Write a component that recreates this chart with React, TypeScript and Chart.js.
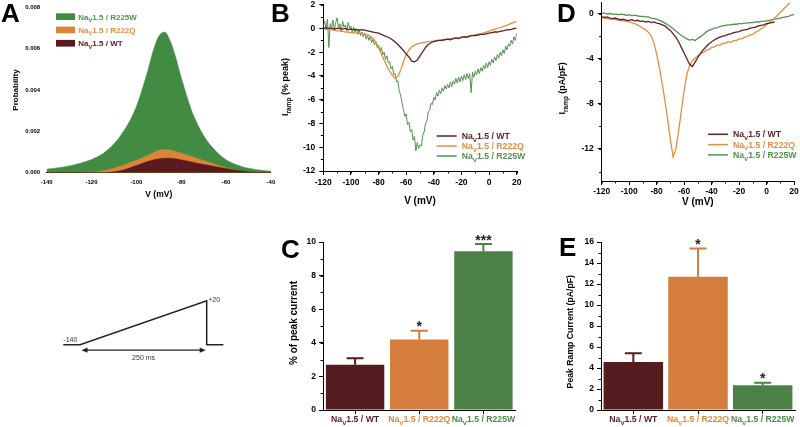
import React, { useEffect, useRef } from 'react';
import { Chart, registerables } from 'chart.js';

Chart.register(...registerables);

const FONT = '"Liberation Sans", Arial, Helvetica, sans-serif';

// ---------- colours ----------
const FILL_WT = '#5b1b1e';
const FILL_Q = '#dc8538';
const FILL_W = '#428b42';
const LINE_WT = '#5e2228';
const LINE_Q = '#e58d42';
const LINE_W = '#559150';
const BAR_COLORS = ['#561d21', '#d47d3c', '#4b8047'];
const TEXT_COLORS = ['#5a1e22', '#e0893e', '#4b8a47'];

// ---------- data ----------
const groups = ['WT', 'R222Q', 'R225W'];

// Panel A: window probability
const vA = [-140, -137.5, -135, -132.5, -130, -127.5, -125, -122.5, -120, -117.5, -115, -112.5, -110, -107.5, -105, -102.5, -100, -97.5, -95, -92.5, -90, -87.5, -85, -82.5, -80, -77.5, -75, -72.5, -70, -67.5, -65, -62.5, -60, -57.5, -55, -52.5, -50, -47.5, -45, -42.5, -40];
const probR225W = [0.00017, 0.0002, 0.00024, 0.00028, 0.00033, 0.00039, 0.00046, 0.00054, 0.00064, 0.00076, 0.00092, 0.00113, 0.0014, 0.00172, 0.00212, 0.0026, 0.0032, 0.004, 0.0049, 0.0059, 0.0066, 0.0068, 0.0064, 0.0056, 0.0046, 0.0037, 0.0029, 0.0023, 0.0018, 0.0014, 0.0011, 0.00083, 0.00063, 0.00048, 0.00037, 0.00028, 0.00022, 0.00017, 0.00013, 0.0001, 0.00008];
const probR222Q = [0, 0, 0, 0, 0, 0, 0, 0.00001, 0.00002, 0.00005, 0.00009, 0.00015, 0.00022, 0.0003, 0.0004, 0.0005, 0.0006, 0.00071, 0.00083, 0.00097, 0.00108, 0.00112, 0.0011, 0.00103, 0.00095, 0.00086, 0.00077, 0.00068, 0.00059, 0.0005, 0.00041, 0.00032, 0.00024, 0.00017, 0.00011, 0.00007, 0.00004, 0.00002, 0.00001, 0, 0];
const probWT = [0, 0, 0, 0, 0, 0, 0, 0, 0, 0, 0, 0.00001, 0.00004, 0.00009, 0.00016, 0.00025, 0.00035, 0.00045, 0.00054, 0.00062, 0.00067, 0.0007, 0.0007, 0.00067, 0.00062, 0.00057, 0.00051, 0.00045, 0.0004, 0.00035, 0.0003, 0.00025, 0.0002, 0.00015, 0.00011, 0.00008, 0.00005, 0.00003, 0.00001, 0, 0];

// Panel B / D voltage grids
const vFine = [-120, -119, -118, -117, -116, -115, -114, -113, -112, -111, -110, -109, -108, -107, -106, -105, -104, -103, -102, -101, -100, -99, -98, -97, -96, -95, -94, -93, -92, -91, -90, -89, -88, -87, -86, -85, -84, -83, -82, -81, -80, -79, -78, -77, -76, -75, -74, -73, -72, -71, -70, -69, -68, -67, -66, -65, -64, -63, -62, -61, -60, -59, -58, -57, -56, -55, -54, -53, -52, -51, -50, -49, -48, -47, -46, -45, -44, -43, -42, -41, -40, -39, -38, -37, -36, -35, -34, -33, -32, -31, -30, -29, -28, -27, -26, -25, -24, -23, -22, -21, -20, -19, -18, -17, -16, -15, -14, -13, -12, -11, -10, -9, -8, -7, -6, -5, -4, -3, -2, -1, 0, 1, 2, 3, 4, 5, 6, 7, 8, 9, 10, 11, 12, 13, 14, 15, 16, 17, 18, 19, 20];
const vCoarse = [-120, -118, -116, -114, -112, -110, -108, -106, -104, -102, -100, -98, -96, -94, -92, -90, -88, -86, -84, -82, -80, -78, -76, -74, -72, -70, -68, -66, -64, -62, -60, -58, -56, -54, -52, -50, -48, -46, -44, -42, -40, -38, -36, -34, -32, -30, -28, -26, -24, -22, -20, -18, -16, -14, -12, -10, -8, -6, -4, -2, 0, 2, 4, 6, 8, 10, 12, 14, 16, 18, 20];

// Panel B: I_ramp (% peak)
const pctR225W = [0.2, 0.6, -0.1, 0.8, -1.6, 0.4, 0.1, 0.7, -0.2, 0.5,
  0.9, 0.0, 0.4, -0.3, 0.6, 0.1, 0.3, -0.2, 0.5, 0.0,
  0.2, -0.4, 0.1, -0.3, 0.0, -0.5, -0.1, -0.6, -0.3, -0.7,
  -0.4, -0.9, -0.6, -1.0, -0.7, -1.2, -0.9, -1.4, -1.1, -1.6,
  -1.4, -1.9, -1.6, -2.2, -2.0, -2.6, -2.3, -2.9, -2.8, -3.4,
  -3.2, -3.9, -3.8, -4.5, -4.4, -5.3, -5.6, -6.3, -6.8, -7.4,
  -7.2, -8.1, -7.9, -8.7, -8.5, -9.4, -9.1, -10.3, -9.6, -10.1,
  -9.8, -9.9, -9.0, -8.7, -8.0, -7.8, -7.0, -6.9, -6.3, -6.4,
  -5.8, -6.0, -5.4, -5.7, -5.2, -5.5, -5.0, -5.3, -4.8, -5.1,
  -4.7, -5.0, -4.5, -4.9, -4.4, -4.7, -4.2, -4.6, -4.1, -4.5,
  -4.0, -4.4, -3.9, -4.3, -3.8, -4.2, -3.8, -5.4, -3.7, -4.1,
  -3.6, -3.9, -3.4, -3.8, -3.3, -3.6, -3.1, -3.4, -2.9, -3.3,
  -2.8, -3.1, -2.6, -2.9, -2.4, -2.7, -2.2, -2.5, -2.0, -2.3,
  -1.8, -2.1, -1.5, -1.8, -1.3, -1.5, -1.0, -1.3, -0.7, -1.0,
  -0.4];
const pctWT = [0.0, 0.05, 0.0, 0.05, -0.05, 0.0, 0.0, -0.05, 0.0, -0.1,
  -0.05, -0.1, -0.1, -0.15, -0.1, -0.15, -0.2, -0.25, -0.3, -0.35,
  -0.4, -0.5, -0.6, -0.7, -0.8, -0.95, -1.15, -1.35, -1.6, -1.85,
  -2.15, -2.4, -2.75, -2.8, -2.65, -2.3, -1.95, -1.6, -1.35, -1.2,
  -1.1, -1.05, -1.0, -1.0, -0.95, -0.9, -0.95, -0.85, -0.8, -0.85,
  -0.75, -0.7, -0.75, -0.65, -0.6, -0.6, -0.55, -0.5, -0.5, -0.45,
  -0.4, -0.35, -0.3, -0.3, -0.25, -0.2, -0.15, -0.1, -0.1, 0.0,
  0.0];
const pctR222Q = [0.0, -0.05, -0.1, -0.1, -0.15, -0.2, -0.2, -0.25, -0.3, -0.3,
  -0.35, -0.35, -0.4, -0.4, -0.45, -0.5, -0.55, -0.65, -0.85, -1.15,
  -1.6, -2.1, -2.65, -3.15, -3.6, -3.95, -4.2, -4.05, -3.5, -2.8,
  -2.2, -1.8, -1.55, -1.4, -1.3, -1.25, -1.2, -1.15, -1.1, -1.08,
  -1.05, -1.0, -0.98, -0.95, -0.92, -0.9, -0.87, -0.84, -0.8, -0.77,
  -0.73, -0.7, -0.66, -0.62, -0.58, -0.53, -0.48, -0.43, -0.37, -0.3,
  -0.23, -0.15, -0.07, 0.0, 0.08, 0.15, 0.23, 0.32, 0.42, 0.52,
  0.6];

// Panel D: I_ramp (pA/pF)
const densWT = [-0.3, -0.35, -0.3, -0.4, -0.45, -0.4, -0.5, -0.55, -0.5, -0.6,
  -0.6, -0.55, -0.65, -0.6, -0.7, -0.65, -0.75, -0.7, -0.8, -0.75,
  -0.85, -0.9, -1.0, -1.1, -1.3, -1.5, -1.8, -2.1, -2.5, -3.0,
  -3.5, -4.0, -4.5, -4.7, -4.3, -3.9, -3.5, -3.2, -2.95, -2.7,
  -2.5, -2.35, -2.2, -2.1, -2.0, -1.95, -1.85, -1.8, -1.7, -1.65,
  -1.6, -1.5, -1.45, -1.4, -1.3, -1.25, -1.2, -1.1, -1.05, -1.0,
  -0.9, -0.85, -0.8, -0.75, null, null, null, null, null, null,
  null];
const densR222Q = [-0.3, -0.4, -0.45, -0.5, -0.5, -0.55, -0.6, -0.6, -0.65, -0.7,
  -0.75, -0.8, -0.9, -1.0, -1.15, -1.3, -1.45, -1.65, -2.0, -2.6,
  -3.6, -4.8, -6.2, -7.7, -9.4, -11.2, -12.7, -12.0, -10.4, -8.6,
  -6.8, -5.4, -4.6, -4.2, -3.95, -3.75, -3.55, -3.45, -3.25, -3.2,
  -3.0, -2.95, -2.8, -2.8, -2.65, -2.65, -2.5, -2.55, -2.4, -2.4,
  -2.25, -2.25, -2.1, -2.05, -1.9, -1.85, -1.65, -1.55, -1.35, -1.2,
  -1.0, -0.8, -0.6, -0.4, -0.15, 0.1, 0.35, 0.6, 0.85, 1.1,
  1.3];
const densR225W = [0.0, 0.05, -0.05, 0.0, -0.05, -0.05, -0.1, -0.05, -0.1, -0.15,
  -0.1, -0.2, -0.15, -0.2, -0.25, -0.25, -0.3, -0.3, -0.4, -0.45,
  -0.5, -0.6, -0.7, -0.85, -1.0, -1.15, -1.35, -1.55, -1.75, -1.95,
  -2.1, -2.25, -2.35, -2.3, -2.4, -2.2, -2.05, -1.85, -1.65, -1.5,
  -1.4, -1.3, -1.25, -1.15, -1.1, -1.05, -1.0, -1.0, -0.95, -0.95,
  -0.9, -0.9, -0.85, -0.85, -0.8, -0.8, -0.75, -0.75, -0.7, -0.7,
  -0.65, -0.6, -0.55, -0.5, -0.45, -0.4, -0.35, -0.3, -0.25, -0.15,
  -0.1];

// Panel C: % of peak current
const rampPct = [2.7, 4.2, 9.45];
const rampPctSem = [0.38, 0.52, 0.43];
const rampPctSig = ['', '*', '***'];

// Panel E: peak ramp current
const peakRamp = [4.58, 12.7, 2.35];
const peakRampSem = [0.82, 2.68, 0.25];
const peakRampSig = ['', '*', '*'];

// Ramp protocol
const protoTime = [-33, 0, 250, 250, 283];
const protoVolt = [-140, -140, 20, -140, -140];

// ---------- helpers ----------
type Seg = { t: string; sub?: boolean };

function drawRich(ctx: any, segs: Seg[], x: number, yc: number, size: number, color: string, align = 'left', weight = 'bold') {
  let w = 0;
  for (const s of segs) {
    ctx.font = `${weight} ${s.sub ? size * 0.72 : size}px ${FONT}`;
    w += ctx.measureText(s.t).width;
  }
  let cx = align === 'left' ? x : align === 'center' ? x - w / 2 : x - w;
  const base = yc + size * 0.36;
  ctx.fillStyle = color;
  ctx.textAlign = 'left';
  ctx.textBaseline = 'alphabetic';
  for (const s of segs) {
    const sz = s.sub ? size * 0.72 : size;
    ctx.font = `${weight} ${sz}px ${FONT}`;
    ctx.fillText(s.t, cx, base + (s.sub ? size * 0.3 : 0));
    cx += ctx.measureText(s.t).width;
  }
}

function drawRotated(ctx: any, segs: Seg[], x: number, y: number, size: number, color: string, weight = 'bold') {
  ctx.save();
  ctx.translate(x, y);
  ctx.rotate(-Math.PI / 2);
  drawRich(ctx, segs, 0, 0, size, color, 'center', weight);
  ctx.restore();
}

function drawLetter(ctx: any, letter: string, x: number, baseline: number) {
  ctx.save();
  ctx.font = `bold 26px ${FONT}`;
  ctx.fillStyle = '#000';
  ctx.textAlign = 'left';
  ctx.textBaseline = 'alphabetic';
  ctx.fillText(letter, x, baseline);
  ctx.restore();
}

const naSegs = (g: string): Seg[] => [{ t: 'Na' }, { t: 'V', sub: true }, { t: '1.5 / ' + g }];

function drawMinor(chart: any, xStep: number, yStep: number, len = 2.5) {
  const { ctx, chartArea: ca, scales } = chart;
  ctx.save();
  ctx.strokeStyle = '#000';
  ctx.lineWidth = 1;
  ctx.beginPath();
  if (xStep) {
    const s = scales.x;
    for (let v = Math.ceil(s.min / xStep) * xStep; v <= s.max + 1e-9; v += xStep) {
      const p = Math.round(s.getPixelForValue(v)) + 0.5;
      ctx.moveTo(p, ca.bottom);
      ctx.lineTo(p, ca.bottom + len);
    }
  }
  if (yStep) {
    const s = scales.y;
    for (let v = Math.ceil(s.min / yStep) * yStep; v <= s.max + 1e-9; v += yStep) {
      const p = Math.round(s.getPixelForValue(v)) + 0.5;
      ctx.moveTo(ca.left, p);
      ctx.lineTo(ca.left - len, p);
    }
  }
  ctx.stroke();
  ctx.restore();
}

function linScale(axis: 'x' | 'y', min: number, max: number, step: number, fit: number, fontSize: number, opts: any = {}) {
  const fmt = opts.fmt;
  return {
    type: 'linear',
    position: axis === 'x' ? 'bottom' : 'left',
    min,
    max,
    border: { display: opts.border !== false, color: '#000', width: 1 },
    grid: { display: true, drawOnChartArea: false, drawTicks: opts.ticks !== false, tickLength: opts.tickLen ?? 4, tickColor: '#000', tickWidth: 1, color: '#000' },
    ticks: {
      stepSize: step,
      includeBounds: false,
      autoSkip: false,
      maxRotation: 0,
      minRotation: 0,
      padding: opts.pad ?? 3,
      color: '#000',
      font: { family: FONT, size: fontSize, weight: 'bold' },
      callback: (v: any) => (fmt ? fmt(Number(v)) : String(Math.round(Number(v) * 1000) / 1000)),
    },
    afterFit: (s: any) => {
      if (axis === 'x') s.height = fit;
      else s.width = fit;
      s.paddingLeft = 0;
      s.paddingRight = 0;
      s.paddingTop = 0;
      s.paddingBottom = 0;
    },
  };
}

function common(top: number, right: number, left = 0, bottom = 0) {
  return {
    responsive: false,
    maintainAspectRatio: false,
    animation: false,
    devicePixelRatio: 1,
    events: [],
    layout: { padding: { top, right, left, bottom } },
    plugins: { legend: { display: false }, tooltip: { enabled: false }, title: { display: false } },
  };
}

const pts = (xs: number[], ys: (number | null)[]) => xs.map((x, i) => ({ x, y: ys[i] }));

// ---------- panel builders ----------
function buildA() {
  const area = (ys: number[], c: string) => ({
    data: pts(vA, ys),
    backgroundColor: c,
    borderColor: c,
    borderWidth: 0.5,
    fill: 'origin',
    pointRadius: 0,
    cubicInterpolationMode: 'monotone',
  });
  const legend = [
    { g: 'R225W', c: FILL_W, t: LINE_W },
    { g: 'R222Q', c: FILL_Q, t: LINE_Q },
    { g: 'WT', c: FILL_WT, t: LINE_WT },
  ];
  return {
    type: 'line',
    data: { datasets: [area(probWT, FILL_WT), area(probR222Q, FILL_Q), area(probR225W, FILL_W)] },
    options: {
      ...common(7.3, 280 - 270.9),
      scales: {
        x: linScale('x', -140, -40, 20, 205 - 172.7, 6, { ticks: false, pad: 6 }),
        y: linScale('y', 0, 0.008, 0.002, 46.7, 6, { ticks: false, pad: 6.5, border: false, fmt: (v: number) => v.toFixed(3) }),
      },
    },
    plugins: [{
      id: 'decorA',
      afterDraw(chart: any) {
        const { ctx, chartArea: ca } = chart;
        ctx.save();
        drawLetter(ctx, 'A', 1, 22);
        legend.forEach((l, i) => {
          const y = ca.top + 6 + i * 13.3;
          ctx.fillStyle = l.c;
          ctx.fillRect(ca.left + 9.3, y, 19, 6.7);
          drawRich(ctx, naSegs(l.g), ca.left + 31.6, y + 3.4, 8, l.t, 'left');
        });
        drawRotated(ctx, [{ t: 'Probability' }], 15, 90, 8, '#000');
        drawRich(ctx, [{ t: 'V (mV)' }], (ca.left + ca.right) / 2, 194, 8.5, '#000', 'center');
        ctx.restore();
      },
    }],
  };
}

function lineDs(xs: number[], ys: (number | null)[], c: string, w = 1.2) {
  return { data: pts(xs, ys), borderColor: c, backgroundColor: c, borderWidth: w, pointRadius: 0, fill: false, tension: 0, spanGaps: false };
}

function lineLegend(ctx: any, x: number, y0: number, dy: number, size: number) {
  const items = [
    { g: 'WT', c: LINE_WT },
    { g: 'R222Q', c: LINE_Q },
    { g: 'R225W', c: LINE_W },
  ];
  items.forEach((it, i) => {
    const y = y0 + i * dy;
    ctx.strokeStyle = it.c;
    ctx.lineWidth = 1.5;
    ctx.beginPath();
    ctx.moveTo(x, y);
    ctx.lineTo(x + 20, y);
    ctx.stroke();
    drawRich(ctx, naSegs(it.g), x + 25, y, size, it.c, 'left');
  });
}

function buildB() {
  return {
    type: 'line',
    data: {
      datasets: [
        lineDs(vCoarse, pctWT, LINE_WT, 1.3),
        lineDs(vCoarse, pctR222Q, LINE_Q, 1.3),
        lineDs(vFine, pctR225W, LINE_W, 1),
      ],
    },
    options: {
      ...common(4.7, 260 - 246.7),
      scales: {
        x: linScale('x', -120, 20, 20, 215 - 171, 8.5, { pad: 3 }),
        y: linScale('y', -12, 2, 2, 53.3, 8.5, { pad: 4 }),
      },
    },
    plugins: [{
      id: 'decorB',
      afterDraw(chart: any) {
        const { ctx, chartArea: ca } = chart;
        ctx.save();
        drawMinor(chart, 10, 1);
        drawLetter(ctx, 'B', 1, 22);
        drawRotated(ctx, [{ t: 'I' }, { t: 'ramp', sub: true }, { t: ' (% peak)' }], 15, 87, 9, '#000');
        drawRich(ctx, [{ t: 'V (mV)' }], (ca.left + ca.right) / 2, 200, 10, '#000', 'center');
        lineLegend(ctx, 166.7, 136, 10, 8.7);
        ctx.restore();
      },
    }],
  };
}

function buildD() {
  return {
    type: 'line',
    data: {
      datasets: [
        lineDs(vCoarse, densWT, LINE_WT, 1.3),
        lineDs(vCoarse, densR222Q, LINE_Q, 1.3),
        lineDs(vCoarse, densR225W, LINE_W, 1.3),
      ],
    },
    options: {
      ...common(2.8, 250 - 244),
      scales: {
        x: linScale('x', -120, 20, 20, 215 - 181, 8.5, { pad: 2 }),
        y: linScale('y', -14.84, 0.95, 4, 51.7, 8.5, { pad: 4 }),
      },
    },
    plugins: [{
      id: 'decorD',
      afterDraw(chart: any) {
        const { ctx, chartArea: ca } = chart;
        ctx.save();
        drawMinor(chart, 10, 2);
        drawLetter(ctx, 'D', 7, 22);
        drawRotated(ctx, [{ t: 'I' }, { t: 'ramp', sub: true }, { t: ' (pA/pF)' }], 11.7, 88.3, 9, '#000');
        drawRich(ctx, [{ t: 'V (mV)' }], (ca.left + ca.right) / 2, 201.7, 10, '#000', 'center');
        lineLegend(ctx, 158, 134.3, 10.3, 8.7);
        ctx.restore();
      },
    }],
  };
}

function buildBars(values: number[], sem: number[], sig: string[], max: number, left: number, right: number, letter: string, letterX: number, letterBase: number, title: string, titleX: number, titleY: number, titleSize: number, barPct: number) {
  return {
    type: 'bar',
    data: {
      labels: groups,
      datasets: [{ data: values, backgroundColor: BAR_COLORS, borderWidth: 0, barPercentage: barPct, categoryPercentage: 1 }],
    },
    options: {
      ...common(14, right),
      scales: {
        x: {
          type: 'category',
          offset: true,
          border: { display: true, color: '#000', width: 1 },
          grid: { display: true, offset: false, drawOnChartArea: false, drawTicks: true, tickLength: 4, tickColor: '#000', color: '#000' },
          ticks: { color: 'rgba(0,0,0,0)', font: { family: FONT, size: 8 } },
          afterFit: (s: any) => { s.height = 17; s.paddingLeft = 0; s.paddingRight = 0; s.paddingTop = 0; s.paddingBottom = 0; },
        },
        y: linScale('y', 0, max, 2, left, 8.5, { pad: 3 }),
      },
    },
    plugins: [{
      id: 'decorBars' + letter,
      afterDatasetsDraw(chart: any) {
        const { ctx } = chart;
        const ys = chart.scales.y;
        const meta = chart.getDatasetMeta(0);
        ctx.save();
        meta.data.forEach((bar: any, i: number) => {
          const top = ys.getPixelForValue(values[i] + sem[i]);
          ctx.strokeStyle = BAR_COLORS[i];
          ctx.lineWidth = 2;
          ctx.beginPath();
          ctx.moveTo(bar.x, bar.y);
          ctx.lineTo(bar.x, top);
          ctx.moveTo(bar.x - 8.5, top);
          ctx.lineTo(bar.x + 8.5, top);
          ctx.stroke();
          if (sig[i]) {
            ctx.font = `bold 14px ${FONT}`;
            ctx.fillStyle = '#222';
            ctx.textAlign = 'center';
            ctx.textBaseline = 'alphabetic';
            ctx.fillText(sig[i], bar.x, top + 0.5);
          }
        });
        ctx.restore();
      },
      afterDraw(chart: any) {
        const { ctx, chartArea: ca } = chart;
        const meta = chart.getDatasetMeta(0);
        ctx.save();
        drawMinor(chart, 0, 1);
        meta.data.forEach((bar: any, i: number) => {
          drawRich(ctx, naSegs(groups[i]), bar.x, ca.bottom + 9.3, 8.7, TEXT_COLORS[i], 'center');
        });
        drawLetter(ctx, letter, letterX, letterBase);
        drawRotated(ctx, [{ t: title }], titleX, titleY, titleSize, '#000');
        ctx.restore();
      },
    }],
  };
}

const buildC = () => buildBars(rampPct, rampPctSem, rampPctSig, 10, 48, 255 - (515.5 - 275), 'C', 6, 30, '% of peak current', 18, 95, 10, 0.91);
const buildE = () => buildBars(peakRamp, peakRampSem, peakRampSig, 16, 46, 245 - (795 - 555), 'E', 4, 28, 'Peak Ramp Current (pA/pF)', 15, 103.7, 8.7, 0.92);

function buildProto() {
  return {
    type: 'line',
    data: { datasets: [{ data: pts(protoTime, protoVolt), borderColor: '#222', borderWidth: 1.5, pointRadius: 0, fill: false, tension: 0, clip: false }] },
    options: {
      ...common(20.7, 26.6, 23.3, 25.3),
      scales: {
        x: { type: 'linear', display: false, min: protoTime[0], max: protoTime[4] },
        y: { type: 'linear', display: false, min: -140, max: 20 },
      },
    },
    plugins: [{
      id: 'decorProto',
      afterDraw(chart: any) {
        const { ctx } = chart;
        const xs = chart.scales.x;
        const ys = chart.scales.y;
        const x0 = xs.getPixelForValue(protoTime[1]) + 1.5;
        const x1 = xs.getPixelForValue(protoTime[2]) - 1;
        const y = ys.getPixelForValue(protoVolt[0]) + 5.5;
        ctx.save();
        ctx.strokeStyle = '#222';
        ctx.fillStyle = '#222';
        ctx.lineWidth = 1.3;
        ctx.beginPath();
        ctx.moveTo(x0 + 3, y);
        ctx.lineTo(x1 - 3, y);
        ctx.stroke();
        ctx.beginPath();
        ctx.moveTo(x0, y); ctx.lineTo(x0 + 6, y - 2.6); ctx.lineTo(x0 + 6, y + 2.6); ctx.closePath();
        ctx.moveTo(x1, y); ctx.lineTo(x1 - 6, y - 2.6); ctx.lineTo(x1 - 6, y + 2.6); ctx.closePath();
        ctx.fill();
        drawRich(ctx, [{ t: String(protoVolt[0]) }], xs.getPixelForValue(protoTime[0]), ys.getPixelForValue(protoVolt[0]) - 5, 7, '#333', 'left', 'normal');
        drawRich(ctx, [{ t: '+' + protoVolt[2] }], xs.getPixelForValue(protoTime[2]) + 1.5, ys.getPixelForValue(protoVolt[2]) - 1.5, 7, '#333', 'left', 'normal');
        drawRich(ctx, [{ t: protoTime[2] + ' ms' }], (x0 + x1) / 2, y + 7.5, 7, '#333', 'center', 'normal');
        ctx.restore();
      },
    }],
  };
}

function ChartCanvas({ left, top, width, height, build }: { left: number; top: number; width: number; height: number; build: () => any }) {
  const ref = useRef<HTMLCanvasElement>(null);
  useEffect(() => {
    const chart = new Chart(ref.current as HTMLCanvasElement, build());
    return () => chart.destroy();
  }, []);
  return <canvas ref={ref} width={width} height={height} style={{ position: 'absolute', left, top, width, height }} />;
}

export default function App() {
  return (
    <div style={{ position: 'absolute', left: 0, top: 0, width: 800, height: 427, background: '#fff', overflow: 'hidden' }}>
      <ChartCanvas left={0} top={0} width={280} height={205} build={buildA} />
      <ChartCanvas left={40} top={280} width={210} height={90} build={buildProto} />
      <ChartCanvas left={270} top={0} width={260} height={215} build={buildB} />
      <ChartCanvas left={550} top={0} width={250} height={215} build={buildD} />
      <ChartCanvas left={275} top={228} width={255} height={199} build={buildC} />
      <ChartCanvas left={555} top={228} width={245} height={199} build={buildE} />
    </div>
  );
}
